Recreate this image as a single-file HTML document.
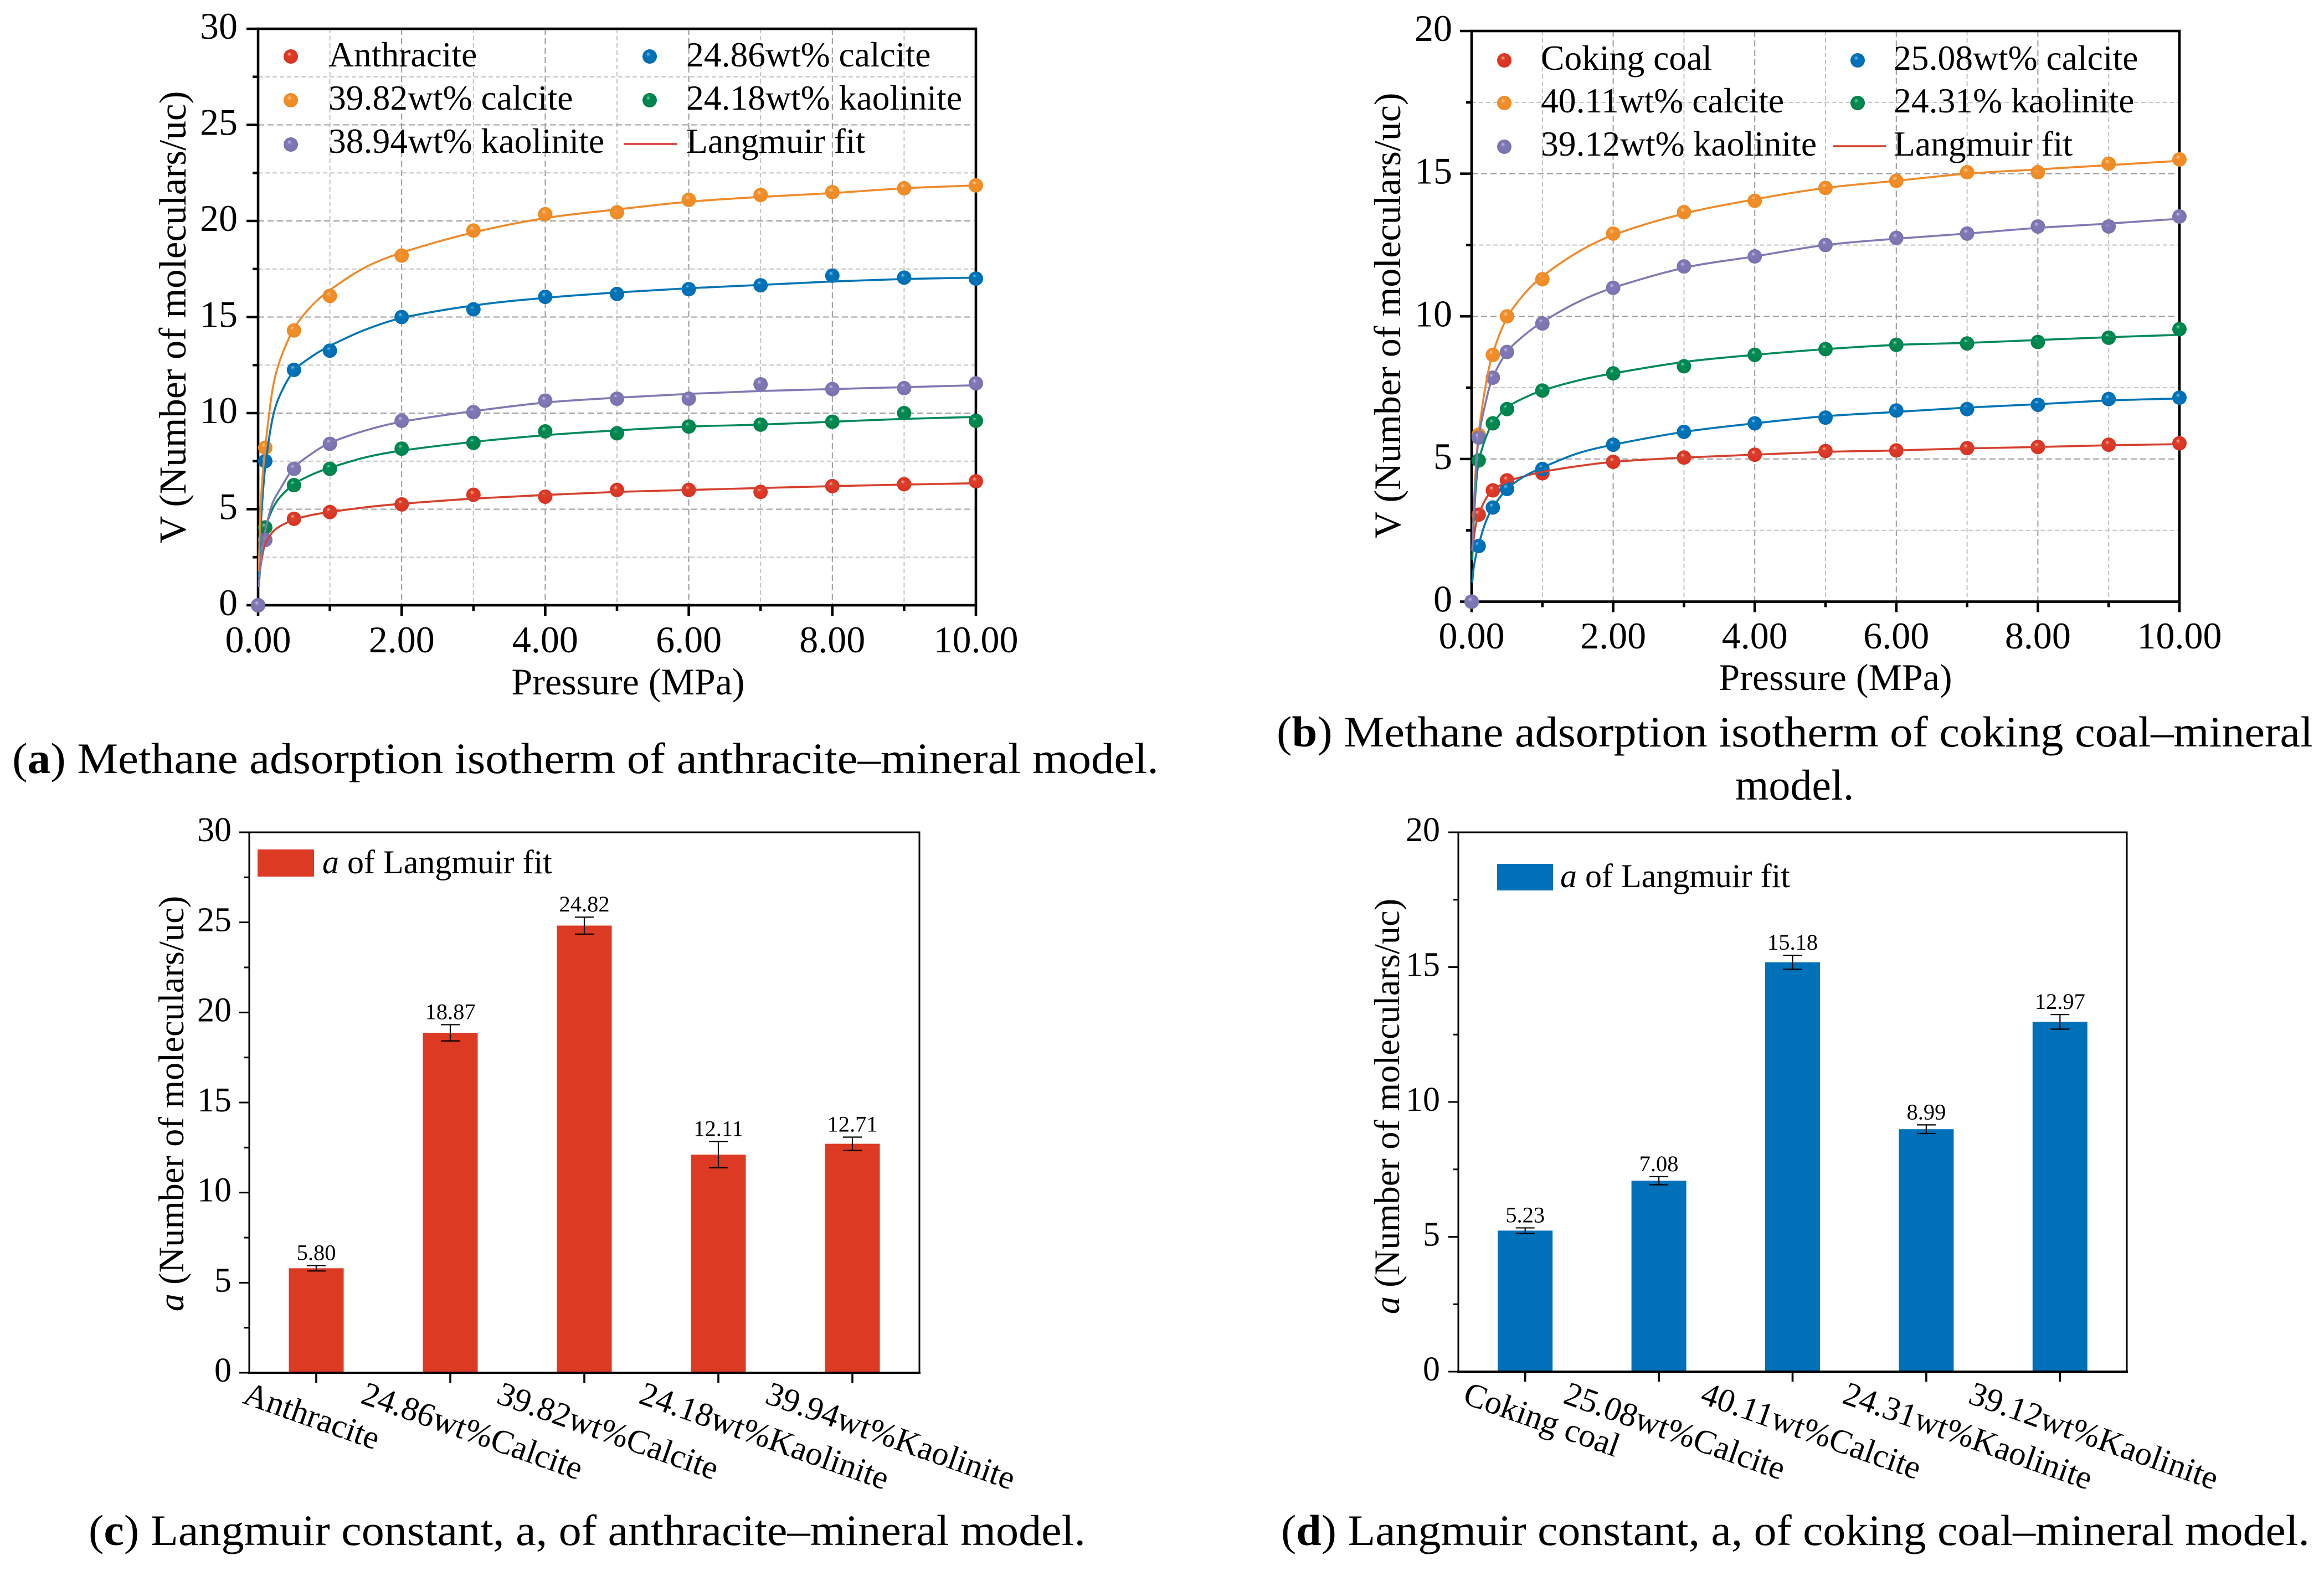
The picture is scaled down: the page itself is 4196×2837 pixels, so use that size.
<!DOCTYPE html>
<html lang="en">
<head>
<meta charset="utf-8">
<title>Methane adsorption isotherms and Langmuir constants</title>
<style>
  html, body { margin: 0; padding: 0; background: #fff; }
  svg { display: block; }
  text { font-family: "Liberation Serif", serif; fill: #000; }
  .cap { font-size: 78px; }
  .legend { font-size: 63.6px; }
  .tick-a { font-size: 68px; }
  .tick-c { font-size: 62px; }
  .cat { font-size: 60.5px; }
  .val { font-size: 40.5px; }
</style>
</head>
<body>
<svg id="figure" xmlns="http://www.w3.org/2000/svg" width="4196" height="2837" viewBox="0 0 4196 2837">
  <defs>
    <radialGradient id="sphere-red" cx="0.5" cy="0.5" r="0.5" fx="0.38" fy="0.3"><stop offset="0" stop-color="#f5b9a8"/><stop offset="0.3" stop-color="#de3b26"/><stop offset="1" stop-color="#d93222"/></radialGradient>
    <radialGradient id="sphere-orange" cx="0.5" cy="0.5" r="0.5" fx="0.38" fy="0.3"><stop offset="0" stop-color="#fbd3a5"/><stop offset="0.3" stop-color="#f3902c"/><stop offset="1" stop-color="#ee8a22"/></radialGradient>
    <radialGradient id="sphere-blue" cx="0.5" cy="0.5" r="0.5" fx="0.38" fy="0.3"><stop offset="0" stop-color="#8ec8ea"/><stop offset="0.3" stop-color="#0074bc"/><stop offset="1" stop-color="#006db2"/></radialGradient>
    <radialGradient id="sphere-green" cx="0.5" cy="0.5" r="0.5" fx="0.38" fy="0.3"><stop offset="0" stop-color="#8fd6b6"/><stop offset="0.3" stop-color="#008a50"/><stop offset="1" stop-color="#00824a"/></radialGradient>
    <radialGradient id="sphere-purple" cx="0.5" cy="0.5" r="0.5" fx="0.38" fy="0.3"><stop offset="0" stop-color="#c9c6e4"/><stop offset="0.3" stop-color="#7f79b6"/><stop offset="1" stop-color="#7972b0"/></radialGradient>
  </defs>

  <!-- Panel a -->
  <g id="panel-a">
    <text x="1134" y="1254" text-anchor="middle" font-size="68">Pressure (MPa)</text>
    <text transform="translate(335,573) rotate(-90)" text-anchor="middle" font-size="69">V (Number of moleculars/uc)</text>
    <g>
      <circle cx="525" cy="102" r="13" fill="url(#sphere-red)"/>
      <text class="legend" x="593" y="120">Anthracite</text>
      <circle cx="525" cy="181" r="13" fill="url(#sphere-orange)"/>
      <text class="legend" x="593" y="198">39.82wt% calcite</text>
      <circle cx="525" cy="261" r="13" fill="url(#sphere-purple)"/>
      <text class="legend" x="593" y="276">38.94wt% kaolinite</text>
      <circle cx="1173" cy="102" r="13" fill="url(#sphere-blue)"/>
      <text class="legend" x="1239" y="120">24.86wt% calcite</text>
      <circle cx="1173" cy="181" r="13" fill="url(#sphere-green)"/>
      <text class="legend" x="1239" y="198">24.18wt% kaolinite</text>
      <line x1="1126" y1="260" x2="1223" y2="260" stroke="#d5402e" stroke-width="3.5"/>
      <text class="legend" x="1239" y="276">Langmuir fit</text>
    </g>
  </g>
  <text class="cap" x="22" y="1396" textLength="2070" lengthAdjust="spacingAndGlyphs">(<tspan font-weight="bold">a</tspan>) Methane adsorption isotherm of anthracite–mineral model.</text>

  <!-- Panel b -->
  <g id="panel-b">
    <text x="3314" y="1246" text-anchor="middle" font-size="68">Pressure (MPa)</text>
    <text transform="translate(2528,570) rotate(-90)" text-anchor="middle" font-size="68">V (Number of moleculars/uc)</text>
    <g>
      <circle cx="2716" cy="109" r="13" fill="url(#sphere-red)"/>
      <text class="legend" x="2782" y="126">Coking coal</text>
      <circle cx="2716" cy="186" r="13" fill="url(#sphere-orange)"/>
      <text class="legend" x="2782" y="203">40.11wt% calcite</text>
      <circle cx="2716" cy="265" r="13" fill="url(#sphere-purple)"/>
      <text class="legend" x="2782" y="281">39.12wt% kaolinite</text>
      <circle cx="3354" cy="109" r="13" fill="url(#sphere-blue)"/>
      <text class="legend" x="3419" y="126">25.08wt% calcite</text>
      <circle cx="3354" cy="186" r="13" fill="url(#sphere-green)"/>
      <text class="legend" x="3419" y="203">24.31% kaolinite</text>
      <line x1="3310" y1="264" x2="3405" y2="264" stroke="#d5402e" stroke-width="3.5"/>
      <text class="legend" x="3419" y="281">Langmuir fit</text>
    </g>
  </g>
  <text class="cap" x="2305" y="1348" textLength="1871" lengthAdjust="spacingAndGlyphs">(<tspan font-weight="bold">b</tspan>) Methane adsorption isotherm of coking coal–mineral</text>
  <text class="cap" x="3240" y="1444" text-anchor="middle">model.</text>

  <!-- Panel c -->
  <g id="panel-c">
    <text transform="translate(331,1993) rotate(-90)" text-anchor="middle" font-size="64.5"><tspan font-style="italic">a</tspan> (Number of moleculars/uc)</text>
    <g>
      <rect x="465" y="1534" width="102" height="49" fill="#dc3a23"/>
      <text x="582" y="1577" font-size="60"><tspan font-style="italic">a</tspan> of Langmuir fit</text>
    </g>
  </g>
  <text class="cap" x="160" y="2790" textLength="1800" lengthAdjust="spacingAndGlyphs">(<tspan font-weight="bold">c</tspan>) Langmuir constant, a, of anthracite–mineral model.</text>

  <!-- Panel d -->
  <g id="panel-d">
    <text transform="translate(2526,1998) rotate(-90)" text-anchor="middle" font-size="64.5"><tspan font-style="italic">a</tspan> (Number of moleculars/uc)</text>
    <g>
      <rect x="2703" y="1560" width="101" height="48" fill="#0070b8"/>
      <text x="2817" y="1602" font-size="60"><tspan font-style="italic">a</tspan> of Langmuir fit</text>
    </g>
  </g>
  <text class="cap" x="2313" y="2790" textLength="1857" lengthAdjust="spacingAndGlyphs">(<tspan font-weight="bold">d</tspan>) Langmuir constant, a, of coking coal–mineral model.</text>
</svg>

<script>
// ---------- shared tick labels ----------
const xTickLabels = ['0.00', '2.00', '4.00', '6.00', '8.00', '10.00'];
const yTickLabels30 = ['0', '5', '10', '15', '20', '25', '30'];
const yTickLabels20 = ['0', '5', '10', '15', '20'];
const fitPressure = [0.01, 0.03, 0.06, 0.1, 0.2, 0.3, 0.5, 0.75, 1, 1.5, 2, 3, 4, 5, 6, 7, 8, 9, 10];

// ---------- panel a data ----------
const pressureA = [0, 0.1, 0.5, 1, 2, 3, 4, 5, 6, 7, 8, 9, 10];
const anthraciteA = [0, 3.4, 4.5, 4.85, 5.25, 5.75, 5.65, 6.0, 6.0, 5.9, 6.2, 6.3, 6.45];
const calcite2486A = [0, 7.5, 12.25, 13.25, 15.0, 15.4, 16.05, 16.2, 16.45, 16.65, 17.15, 17.05, 17.0];
const calcite3982A = [0, 8.2, 14.3, 16.1, 18.2, 19.5, 20.35, 20.45, 21.1, 21.35, 21.5, 21.7, 21.85];
const kaolinite2418A = [0, 4.05, 6.25, 7.1, 8.15, 8.45, 9.05, 8.95, 9.3, 9.4, 9.55, 10.0, 9.6];
const kaolinite3894A = [0, 3.4, 7.1, 8.4, 9.6, 10.05, 10.65, 10.75, 10.75, 11.5, 11.25, 11.3, 11.55];
const fitAnthraciteA = [1.0, 1.9, 2.6, 3.2, 3.8, 4.1, 4.45, 4.7, 4.85, 5.1, 5.28, 5.55, 5.74, 5.9, 6.0, 6.1, 6.2, 6.28, 6.35];
const fitCalcite2486A = [1.5, 3.5, 5.5, 7.2, 9.7, 10.9, 12.2, 12.95, 13.5, 14.35, 14.95, 15.6, 16.0, 16.28, 16.5, 16.67, 16.85, 16.98, 17.05];
const fitCalcite3982A = [1.8, 4.7, 6.6, 8.2, 11.2, 12.7, 14.4, 15.6, 16.4, 17.6, 18.35, 19.4, 20.15, 20.6, 21.0, 21.25, 21.45, 21.7, 21.85];
const fitKaolinite2418A = [1.0, 2.0, 3.1, 4.0, 5.0, 5.6, 6.3, 6.8, 7.15, 7.7, 8.05, 8.5, 8.85, 9.1, 9.3, 9.4, 9.55, 9.7, 9.8];
const fitKaolinite3894A = [1.0, 2.0, 3.0, 3.9, 5.3, 6.0, 7.15, 7.9, 8.45, 9.1, 9.55, 10.1, 10.55, 10.8, 11.0, 11.15, 11.25, 11.35, 11.45];

// ---------- panel b data ----------
const pressureB = [0, 0.1, 0.3, 0.5, 1, 2, 3, 4, 5, 6, 7, 8, 9, 10];
const cokingB = [0, 3.05, 3.9, 4.25, 4.5, 4.9, 5.05, 5.15, 5.28, 5.3, 5.38, 5.42, 5.5, 5.55];
const calcite2508B = [0, 1.95, 3.3, 3.95, 4.65, 5.5, 5.95, 6.25, 6.45, 6.7, 6.75, 6.9, 7.1, 7.15];
const calcite4011B = [0, 5.85, 8.65, 10.0, 11.3, 12.9, 13.65, 14.05, 14.5, 14.75, 15.05, 15.05, 15.35, 15.5];
const kaolinite2431B = [0, 4.95, 6.25, 6.75, 7.4, 8.0, 8.25, 8.65, 8.85, 9.0, 9.05, 9.1, 9.25, 9.55];
const kaolinite3912B = [0, 5.75, 7.85, 8.75, 9.75, 11.0, 11.75, 12.1, 12.5, 12.75, 12.9, 13.15, 13.15, 13.5];
const fitCokingB = [1.8, 2.2, 2.7, 3.05, 3.6, 3.9, 4.2, 4.4, 4.55, 4.75, 4.9, 5.05, 5.15, 5.25, 5.3, 5.37, 5.42, 5.48, 5.52];
const fitCalcite2508B = [0.7, 1.2, 1.6, 2.0, 2.8, 3.3, 3.95, 4.4, 4.7, 5.2, 5.5, 5.95, 6.25, 6.5, 6.65, 6.8, 6.92, 7.05, 7.12];
const fitCalcite4011B = [1.8, 3.2, 4.7, 5.9, 7.6, 8.7, 9.95, 10.8, 11.4, 12.25, 12.85, 13.6, 14.1, 14.5, 14.75, 15.0, 15.15, 15.3, 15.45];
const fitKaolinite2431B = [1.5, 2.8, 4.0, 4.9, 5.75, 6.25, 6.8, 7.15, 7.4, 7.75, 8.0, 8.4, 8.65, 8.85, 9.0, 9.07, 9.17, 9.27, 9.35];
const fitKaolinite3912B = [1.8, 3.0, 4.5, 5.75, 7.0, 7.85, 8.75, 9.35, 9.8, 10.5, 11.0, 11.7, 12.1, 12.5, 12.72, 12.9, 13.1, 13.25, 13.42];

// ---------- panel c data ----------
const categoriesC = ['Anthracite', '24.86wt%Calcite', '39.82wt%Calcite', '24.18wt%Kaolinite', '39.94wt%Kaolinite'];
const valuesC = [5.80, 18.87, 24.82, 12.11, 12.71];
const errorsC = [0.15, 0.45, 0.47, 0.73, 0.37];

// ---------- panel d data ----------
const categoriesD = ['Coking coal', '25.08wt%Calcite', '40.11wt%Calcite', '24.31wt%Kaolinite', '39.12wt%Kaolinite'];
const valuesD = [5.23, 7.08, 15.18, 8.99, 12.97];
const errorsD = [0.10, 0.15, 0.26, 0.16, 0.27];

const SVGNS = 'http://www.w3.org/2000/svg';
const COLORS = { red: '#d5402e', orange: '#ee8a2a', blue: '#0075b5', green: '#00895a', purple: '#7f79b3' };

function add(parent, tag, attrs, txt) {
  const e = document.createElementNS(SVGNS, tag);
  for (const k in attrs) e.setAttribute(k, attrs[k]);
  if (txt !== undefined) e.textContent = txt;
  parent.appendChild(e);
  return e;
}

// chordal Catmull-Rom path through pixel points
function smoothPath(pts) {
  const t = [0];
  for (let i = 1; i < pts.length; i++) {
    t.push(t[i - 1] + Math.hypot(pts[i][0] - pts[i - 1][0], pts[i][1] - pts[i - 1][1]) + 1e-6);
  }
  const m = pts.map((p, i) => {
    const a = pts[Math.max(i - 1, 0)], b = pts[Math.min(i + 1, pts.length - 1)];
    const dt = t[Math.min(i + 1, pts.length - 1)] - t[Math.max(i - 1, 0)];
    return [(b[0] - a[0]) / dt, (b[1] - a[1]) / dt];
  });
  let d = 'M' + pts[0][0].toFixed(1) + ' ' + pts[0][1].toFixed(1);
  for (let i = 0; i < pts.length - 1; i++) {
    const h = (t[i + 1] - t[i]) / 3;
    d += ' C' + (pts[i][0] + m[i][0] * h).toFixed(1) + ' ' + (pts[i][1] + m[i][1] * h).toFixed(1) +
         ' ' + (pts[i + 1][0] - m[i + 1][0] * h).toFixed(1) + ' ' + (pts[i + 1][1] - m[i + 1][1] * h).toFixed(1) +
         ' ' + pts[i + 1][0].toFixed(1) + ' ' + pts[i + 1][1].toFixed(1);
  }
  return d;
}

function drawIsotherm(cfg) {
  const root = document.getElementById(cfg.id);
  const L = cfg.left, R = cfg.right, T = cfg.top, B = cfg.bottom;
  const sx = v => L + (R - L) * v / 10;
  const yMax = Number(cfg.yLabels[cfg.yLabels.length - 1]);
  const sy = v => B - (B - T) * v / yMax;
  const gridG = add(root, 'g', {});
  
  
  root.insertBefore(gridG, root.firstChild);

  // vertical grid
  for (let v = 1; v < 10; v++) {
    const major = v % 2 === 0;
    const gl = add(gridG, 'line', { x1: sx(v), y1: T, x2: sx(v), y2: B, stroke: major ? '#9a9a9a' : '#c2c2c2', 'stroke-width': 2, 'stroke-dasharray': major ? '11 6' : '8 5' });
    
    
  }
  // horizontal grid
  for (let v = 2.5; v < yMax; v += 2.5) {
    const major = v % 5 === 0;
    const gl = add(gridG, 'line', { x1: L, y1: sy(v), x2: R, y2: sy(v), stroke: major ? '#9a9a9a' : '#c2c2c2', 'stroke-width': 2, 'stroke-dasharray': major ? '11 6' : '8 5' });
    
    
  }
  // frame
  const frame = add(root, 'rect', { x: L, y: T, width: R - L, height: B - T, fill: 'none', stroke: '#000', 'stroke-width': 4.6 });
  
  

  // x ticks
  for (let v = 0; v <= 10; v++) {
    const major = v % 2 === 0;
    const tk = add(root, 'line', { x1: sx(v), y1: B, x2: sx(v), y2: B + (major ? 19 : 10), stroke: '#000', 'stroke-width': 4.6 });
    
    
  }
  xTickLabels.forEach(s => {
    const lb = add(root, 'text', { x: sx(Number(s)), y: cfg.xLabelY, 'text-anchor': 'middle', class: 'tick-a' }, s);
    
    
  });
  // y ticks
  for (let v = 0; v <= yMax; v += 2.5) {
    const major = v % 5 === 0;
    const tk = add(root, 'line', { x1: L - (major ? 21 : 10), y1: sy(v), x2: L, y2: sy(v), stroke: '#000', 'stroke-width': 4.6 });
    
    
  }
  cfg.yLabels.forEach(s => {
    const lb = add(root, 'text', { x: cfg.yLabelX, y: sy(Number(s)) + 18, 'text-anchor': 'end', class: 'tick-a' }, s);
    
    
  });

  // markers, then fit lines on top
  cfg.series.forEach(s => {
    const g = add(root, 'g', {});
    
    
    s.values.forEach((v, i) => {
      const c = add(g, 'circle', { cx: sx(cfg.pressure[i]), cy: sy(v), r: 13, fill: 'url(#sphere-' + s.color + ')' });
      
      
    });
  });
  cfg.series.forEach(s => {
    const pts = s.fit.map((v, i) => [sx(fitPressure[i]), sy(v)]);
    const p = add(root, 'path', { d: smoothPath(pts), fill: 'none', stroke: COLORS[s.color], 'stroke-width': 3.6, 'stroke-linecap': 'round' });
    
    
  });
}

function drawBars(cfg) {
  const root = document.getElementById(cfg.id);
  const L = cfg.left, R = cfg.right, T = cfg.top, B = cfg.bottom;
  const n = cfg.categories.length;
  const sx = i => L + (R - L) * (i + 0.5) / n;
  const yMax = Number(cfg.yLabels[cfg.yLabels.length - 1]);
  const sy = v => B - (B - T) * v / yMax;
  const bw = 99;

  cfg.values.forEach((v, i) => {
    const bar = add(root, 'rect', { x: sx(i) - bw / 2, y: sy(v), width: bw, height: B - sy(v), fill: cfg.color });
    
    
    const e = cfg.errors[i];
    const d = 'M' + sx(i) + ' ' + sy(v + e) + ' V' + sy(v - e) +
              ' M' + (sx(i) - 17) + ' ' + sy(v + e) + ' H' + (sx(i) + 17) +
              ' M' + (sx(i) - 17) + ' ' + sy(v - e) + ' H' + (sx(i) + 17);
    const err = add(root, 'path', { d: d, fill: 'none', stroke: '#000', 'stroke-width': 2.2 });
    
    
    const lb = add(root, 'text', { x: sx(i), y: sy(v + e) - 10, 'text-anchor': 'middle', class: 'val' }, v.toFixed(2));
    
    
  });

  const frame = add(root, 'path', { d: 'M' + L + ' ' + B + ' V' + T + ' H' + R + ' V' + B, fill: 'none', stroke: '#000', 'stroke-width': 3 });
  
  
  const base = add(root, 'line', { x1: L - 2, y1: B, x2: R + 2, y2: B, stroke: '#000', 'stroke-width': 4 });
  
  

  cfg.categories.forEach((c, i) => {
    const tk = add(root, 'line', { x1: sx(i), y1: B, x2: sx(i), y2: B + 18, stroke: '#000', 'stroke-width': 3.6 });
    
    
    const lx = sx(i) + cfg.labelShift[i];
    const lb = add(root, 'text', { transform: 'translate(' + lx + ',' + cfg.labelY + ') rotate(19.5)', class: 'cat' }, c);
    
    
  });
  for (let v = 0; v <= yMax; v += 2.5) {
    const major = v % 5 === 0;
    const tk = add(root, 'line', { x1: L - (major ? 18 : 9), y1: sy(v), x2: L, y2: sy(v), stroke: '#000', 'stroke-width': 3 });
    
    
  }
  cfg.yLabels.forEach(s => {
    const lb = add(root, 'text', { x: cfg.yLabelX, y: sy(Number(s)) + 16, 'text-anchor': 'end', class: 'tick-c' }, s);
    
    
  });
}

drawIsotherm({
  id: 'panel-a', left: 466, right: 1762, top: 52, bottom: 1093,
  xLabelY: 1178, yLabelX: 429, yLabels: yTickLabels30, pressure: pressureA,
  series: [
    { name: 'anthracite', color: 'red', values: anthraciteA, fit: fitAnthraciteA },
    { name: 'calcite-24-86', color: 'blue', values: calcite2486A, fit: fitCalcite2486A },
    { name: 'calcite-39-82', color: 'orange', values: calcite3982A, fit: fitCalcite3982A },
    { name: 'kaolinite-24-18', color: 'green', values: kaolinite2418A, fit: fitKaolinite2418A },
    { name: 'kaolinite-38-94', color: 'purple', values: kaolinite3894A, fit: fitKaolinite3894A }
  ]
});
drawIsotherm({
  id: 'panel-b', left: 2657, right: 3935, top: 56, bottom: 1086.5,
  xLabelY: 1171, yLabelX: 2622, yLabels: yTickLabels20, pressure: pressureB,
  series: [
    { name: 'coking-coal', color: 'red', values: cokingB, fit: fitCokingB },
    { name: 'calcite-25-08', color: 'blue', values: calcite2508B, fit: fitCalcite2508B },
    { name: 'calcite-40-11', color: 'orange', values: calcite4011B, fit: fitCalcite4011B },
    { name: 'kaolinite-24-31', color: 'green', values: kaolinite2431B, fit: fitKaolinite2431B },
    { name: 'kaolinite-39-12', color: 'purple', values: kaolinite3912B, fit: fitKaolinite3912B }
  ]
});
drawBars({
  id: 'panel-c', left: 450, right: 1660, top: 1503, bottom: 2479, color: '#dc3a23',
  yLabelX: 418, labelY: 2533, yLabels: yTickLabels30,
  categories: categoriesC, values: valuesC, errors: errorsC,
  labelShift: [-135, -164, -161, -146, -160]
});
drawBars({
  id: 'panel-d', left: 2633, right: 3840, top: 1503, bottom: 2477, color: '#0070b8',
  yLabelX: 2600, labelY: 2533, yLabels: yTickLabels20,
  categories: categoriesD, values: valuesD, errors: errorsD,
  labelShift: [-115, -175, -169, -154, -168]
});
</script>
</body>
</html>
